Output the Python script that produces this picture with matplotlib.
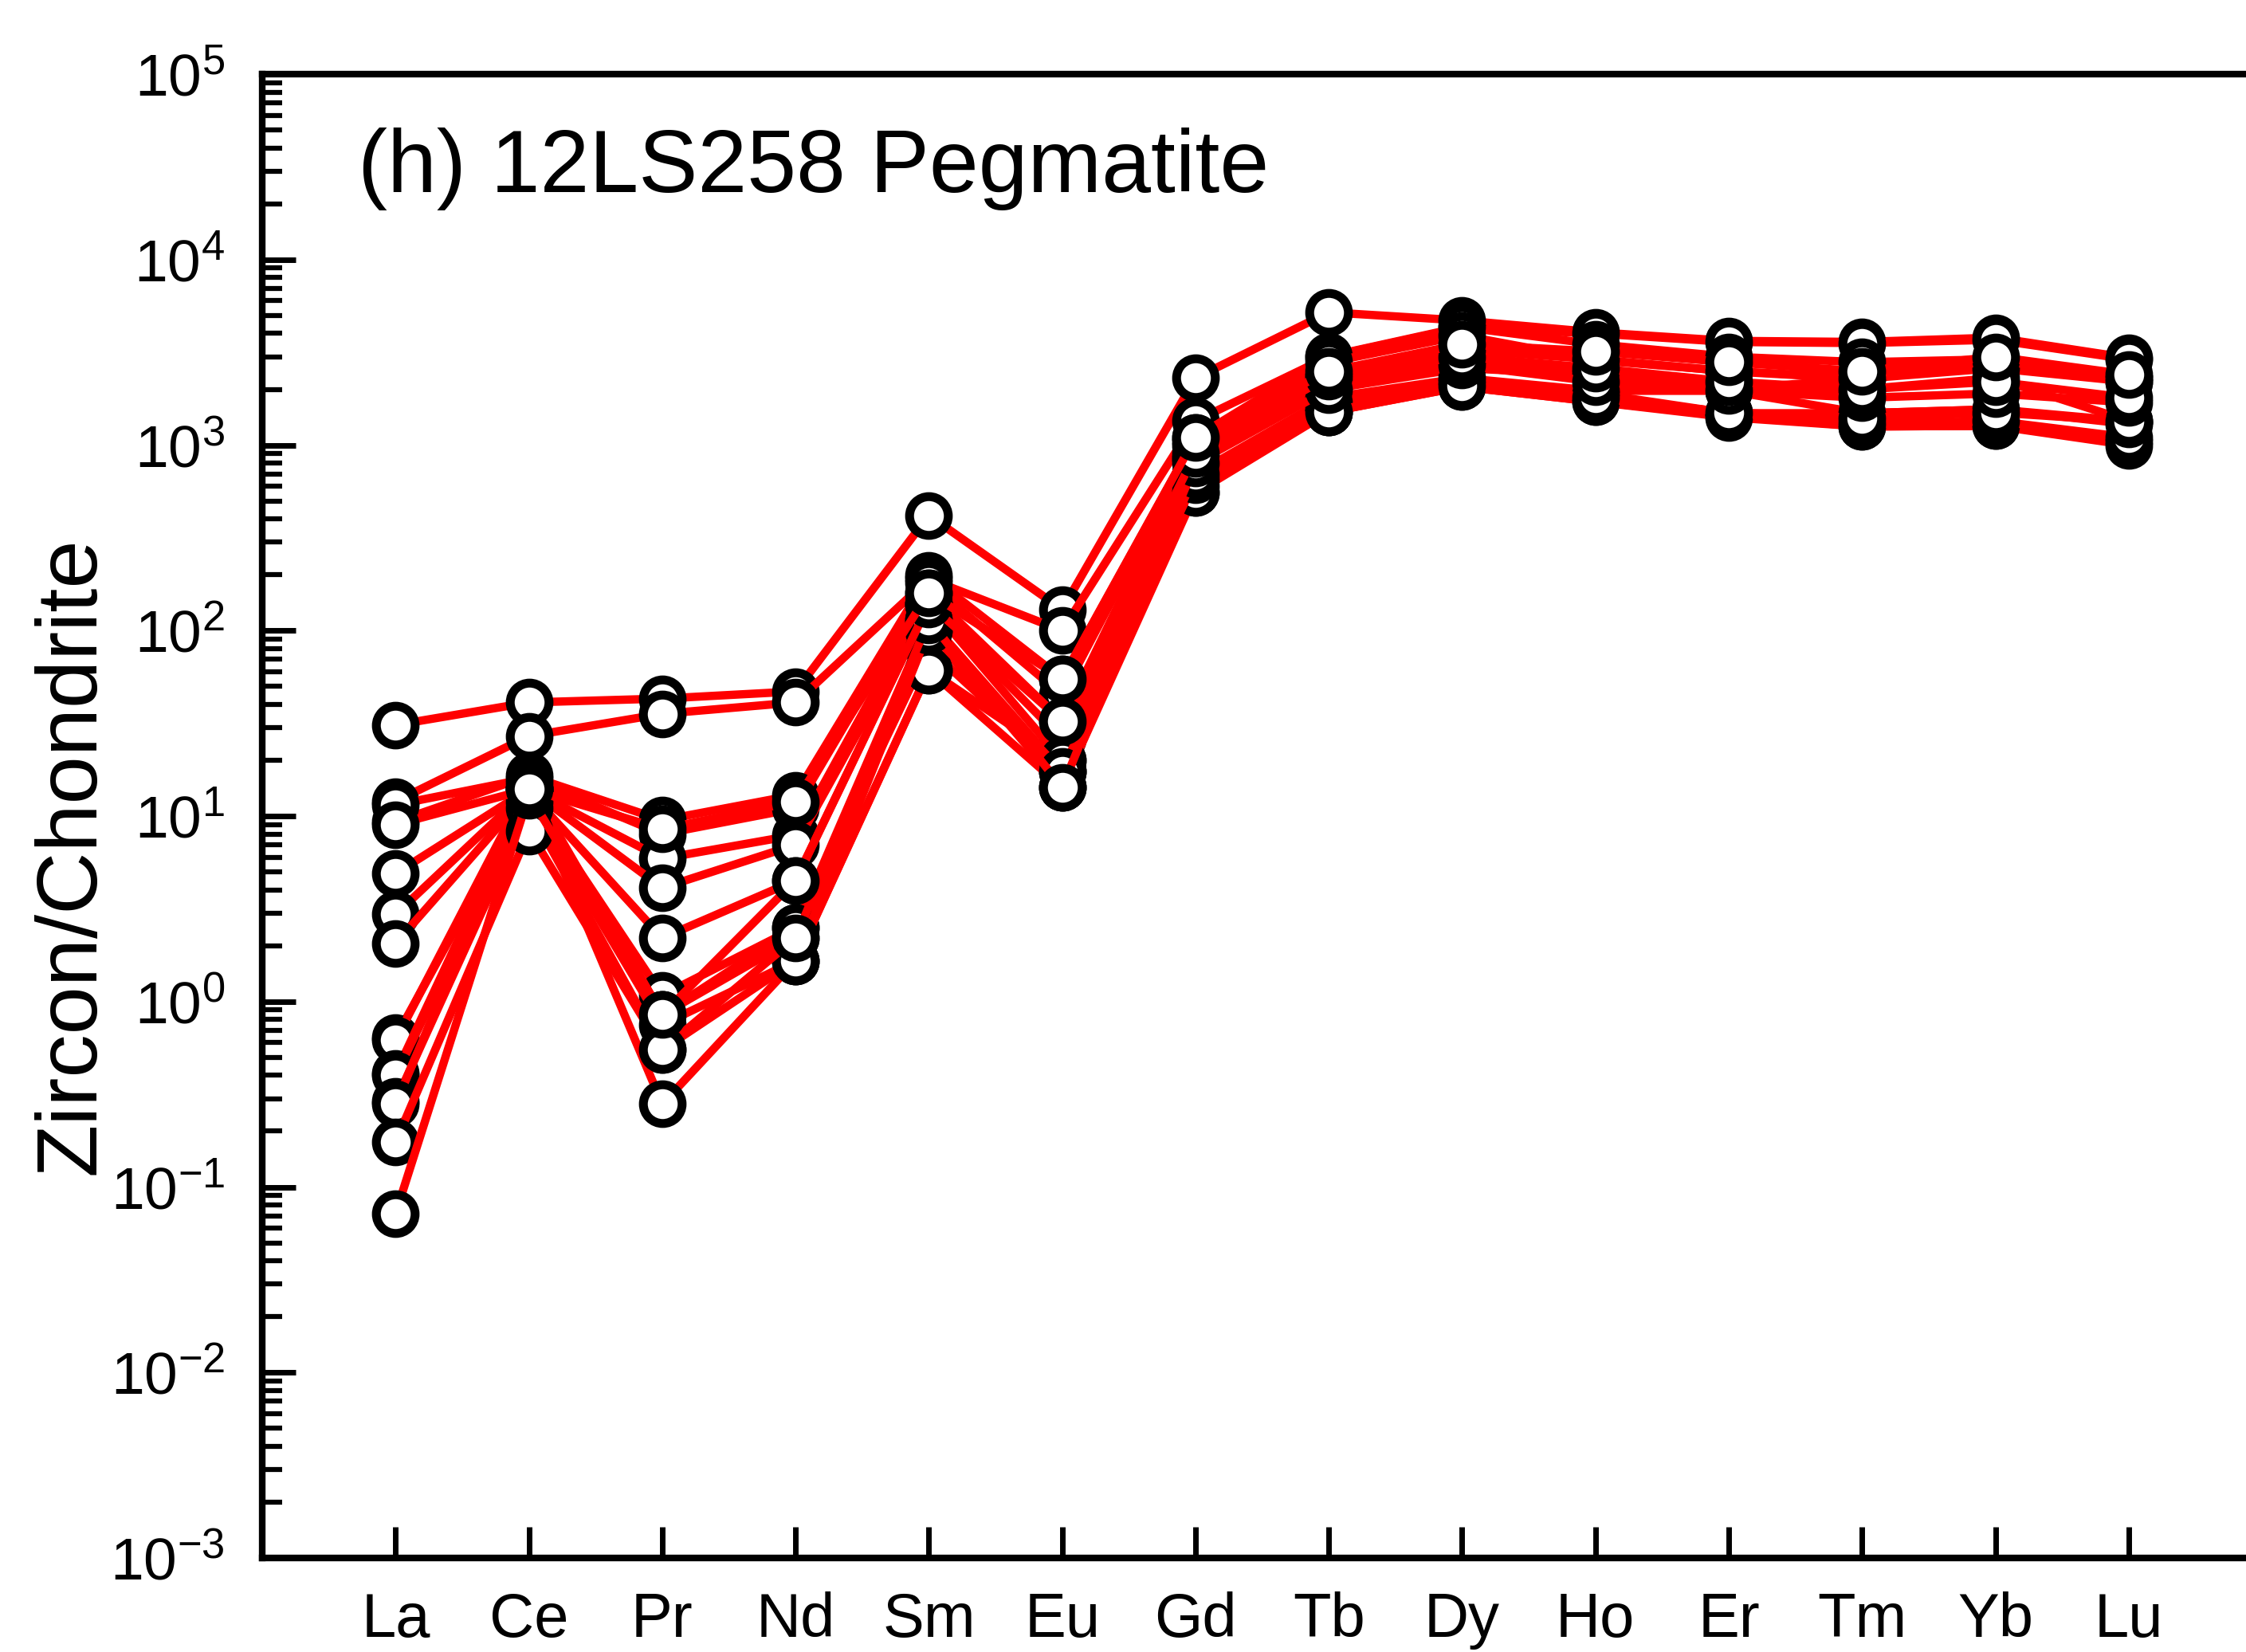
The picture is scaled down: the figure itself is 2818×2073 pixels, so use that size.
import matplotlib
matplotlib.use("Agg")
import matplotlib.pyplot as plt
import matplotlib.ticker as mticker

plt.rcParams["font.family"] = ["Liberation Sans", "DejaVu Sans"]
plt.rcParams["mathtext.fontset"] = "custom"
plt.rcParams["mathtext.rm"] = "Liberation Sans"
plt.rcParams["mathtext.it"] = "Liberation Sans"
plt.rcParams["mathtext.default"] = "regular"

# ── REE, chondrite-normalised zircon spots ──────────────────────────────────

ELEMENTS = ["La", "Ce", "Pr", "Nd", "Sm", "Eu", "Gd",
            "Tb", "Dy", "Ho", "Er", "Tm", "Yb", "Lu"]

spot_01 = [31, 41, 43, 47, 418, 130, 2300, 5200, 4700, 4060, 3650, 3600, 3800, 2950]
spot_02 = [12, 27, 35.6, 41, 190, 100, 1350, 3000, 4300, 4000, 3600, 3550, 3700, 2900]
spot_03 = [9.3, 16.5, 9.5, 13, 199, 55, 1100, 3013, 4336, 3500, 3000, 2800, 2900, 2300]
spot_04 = [11.5, 16, 8.0, 11, 181, 45, 1050, 2800, 3900, 2870, 2510, 2300, 2872, 2204]
spot_05 = [4.9, 14, 5.9, 7.9, 160, 32.5, 1000, 2355, 3273, 2900, 2500, 2280, 2600, 2200]
spot_06 = [2.95, 14, 4.1, 7.0, 139, 26, 849, 2000, 2600, 2400, 1963, 2000, 2300, 1350]
spot_07 = [2.06, 13.5, 2.2, 4.5, 139, 20, 850, 2200, 2800, 2500, 2000, 2280, 2872, 2300]
spot_08 = [0.64, 13, 1.08, 2.5, 114, 17.4, 700, 1800, 2300, 1963, 1963, 1486, 1560, 1345]
spot_09 = [0.62, 15, 0.85, 2.2, 100, 14.3, 600, 1510, 2066, 1713, 1443, 1260, 1271, 1000]
spot_10 = [0.41, 14, 0.85, 2.5, 80, 17.4, 553, 1510, 2066, 1713, 1413, 1260, 1271, 1050]
spot_11 = [0.40, 12, 0.75, 1.66, 61, 14.3, 553, 1600, 2100, 1800, 1500, 1300, 1350, 1100]
spot_12 = [0.29, 11, 0.55, 1.66, 61, 20, 650, 1700, 2200, 1900, 1486, 1486, 1560, 1300]
spot_13 = [0.28, 14, 0.28, 1.66, 100, 17.4, 700, 1510, 2100, 1800, 1500, 1400, 1500, 1345]
spot_14 = [0.175, 8.3, 0.55, 2.2, 114, 14.3, 800, 2000, 2700, 2200, 1963, 1800, 1900, 1700]
spot_15 = [0.072, 13, 0.85, 4.5, 139, 32.5, 900, 2355, 3000, 2600, 2200, 2000, 2200, 1800]
spot_16 = [9.0, 14, 8.5, 12, 160, 55, 1104, 2500, 3500, 3200, 2800, 2500, 3000, 2400]

SPOTS = [spot_01, spot_02, spot_03, spot_04, spot_05, spot_06, spot_07, spot_08,
         spot_09, spot_10, spot_11, spot_12, spot_13, spot_14, spot_15, spot_16]

Y_DECADES = list(range(-3, 6))

TITLE = "(h) 12LS258 Pegmatite"
Y_LABEL = "Zircon/Chondrite"


def main():
    fig = plt.figure(figsize=(28.18, 20.73), dpi=100, facecolor="white")
    ax = fig.add_axes([0.1168, 0.0569, 0.8832, 0.8982])

    xs = list(range(1, len(ELEMENTS) + 1))
    for spot in SPOTS:
        ax.plot(xs, spot, "-", color="#ff0000", linewidth=7.5,
                marker="o", markersize=35, markerfacecolor="white",
                markeredgecolor="black", markeredgewidth=8,
                solid_joinstyle="round", clip_on=False)

    ax.set_yscale("log")
    ax.set_ylim(1e-3, 1e5)
    ax.set_xlim(0, 14.88)

    ax.set_yticks([10.0 ** e for e in Y_DECADES])
    ax.set_yticklabels([rf"$10^{{{e}}}$" for e in Y_DECADES])
    ax.yaxis.set_minor_locator(mticker.LogLocator(base=10, subs=range(2, 10), numticks=20))
    ax.yaxis.set_minor_formatter(mticker.NullFormatter())

    ax.set_xticks(xs)
    ax.set_xticklabels(ELEMENTS)

    for side in ["left", "bottom", "top"]:
        ax.spines[side].set_linewidth(6)
    ax.spines["right"].set_visible(False)

    ax.tick_params(axis="y", which="major", direction="in", length=30, width=5,
                   labelsize=54, pad=34, right=False)
    ax.tick_params(axis="y", which="minor", direction="in", length=18, width=4.5,
                   right=False)
    ax.tick_params(axis="x", which="major", direction="in", length=28, width=5,
                   labelsize=56, pad=30, top=False)
    ax.tick_params(axis="x", which="minor", bottom=False, top=False)

    ax.text(0.048, 0.936, TITLE, transform=ax.transAxes, fontsize=80,
            ha="left", va="center")
    fig.text(0.032, 0.482, Y_LABEL, rotation=90, fontsize=78,
             ha="center", va="center")

    fig.savefig("out.png", dpi=100, facecolor="white")
    plt.close(fig)


if __name__ == "__main__":
    main()
